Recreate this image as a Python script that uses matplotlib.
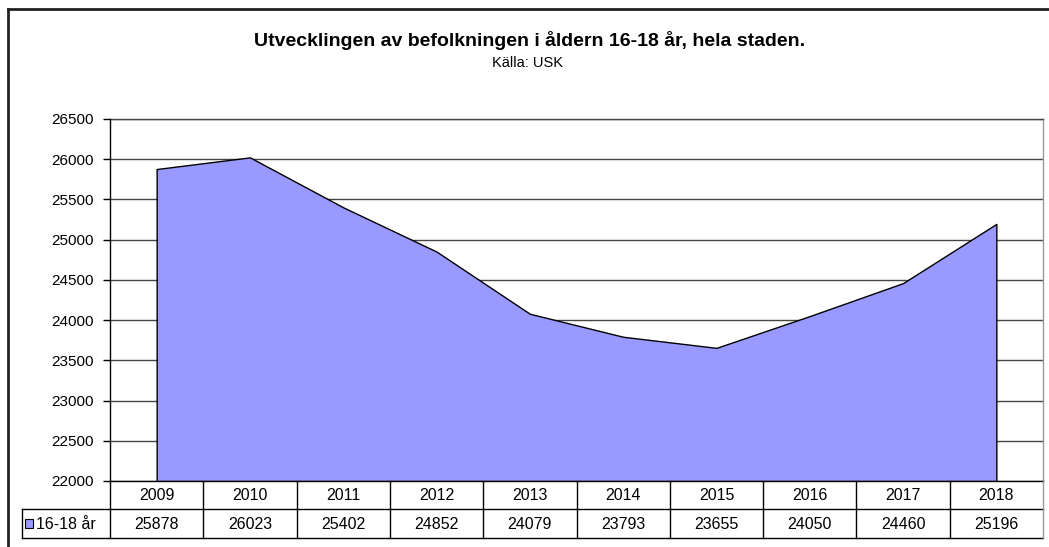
import matplotlib
matplotlib.use("Agg")
import matplotlib.pyplot as plt
from matplotlib.lines import Line2D
from matplotlib.patches import Rectangle

years = ["2009", "2010", "2011", "2012", "2013", "2014", "2015", "2016", "2017", "2018"]
values = [25878, 26023, 25402, 24852, 24079, 23793, 23655, 24050, 24460, 25196]
series_label = "16-18 år"
title = "Utvecklingen av befolkningen i åldern 16-18 år, hela staden."
subtitle = "Källa: USK"
y_ticks = list(range(22000, 26501, 500))

plt.rcParams['font.family'] = ['Liberation Sans', 'DejaVu Sans']

W, H = 1049, 547
fig = plt.figure(figsize=(W / 100, H / 100), dpi=100)

def fx(px):
    return px / W

def fy(py):
    return 1 - py / H

L, R, T, B = 110, 1043, 119, 481
ax = fig.add_axes([fx(L), fy(B), fx(R) - fx(L), fy(T) - fy(B)])
x = list(range(len(years)))
ax.set_xlim(-0.5, len(years) - 0.5)
ax.set_ylim(22000, 26500)
ax.set_yticks(y_ticks)
ax.set_yticklabels([str(v) for v in y_ticks], fontsize=11)
ax.set_xticks([])
ax.tick_params(axis='y', length=5, width=1, color='black', pad=7)
for v in y_ticks:
    ax.axhline(v, color='#444444', lw=1, zorder=1)
ax.fill_between(x, values, 22000, facecolor='#9999FF', edgecolor='black', lw=1, zorder=2)
ax.spines['left'].set_color('black')
ax.spines['bottom'].set_color('black')
ax.spines['top'].set_color('#444444')
ax.spines['right'].set_color('#999999')
for s in ax.spines.values():
    s.set_linewidth(1)
ax.spines['left'].set_zorder(5)
ax.spines['bottom'].set_zorder(5)

# Data table
row1_top, row1_bot, row2_bot = 481, 509, 538
label_left = 22
colw = (R - L) / len(years)
lc = 'black'
def hline(y, x0, x1, color=lc, lw=1):
    fig.add_artist(Line2D([fx(x0), fx(x1)], [fy(y), fy(y)], color=color, lw=lw))
def vline(x0, y0, y1, color=lc, lw=1):
    fig.add_artist(Line2D([fx(x0), fx(x0)], [fy(y0), fy(y1)], color=color, lw=lw))

hline(row1_bot, label_left, R)
hline(row2_bot, label_left, R)
vline(label_left, row1_bot, row2_bot)
for i in range(len(years) + 1):
    xx = L + i * colw
    vline(xx, row1_top, row2_bot, color=('#999999' if i == len(years) else lc))
for i, (yr, v) in enumerate(zip(years, values)):
    cx = L + (i + 0.5) * colw
    fig.text(fx(cx), fy((row1_top + row1_bot) / 2 + 1), yr, ha='center', va='center', fontsize=11.5)
    fig.text(fx(cx), fy((row1_bot + row2_bot) / 2 + 1), str(v), ha='center', va='center', fontsize=11.5)
# legend key
fig.add_artist(Rectangle((fx(25), fy(528)), fx(8), fy(519) - fy(528), facecolor='#9999FF',
                         edgecolor='black', lw=0.8, transform=fig.transFigure))
fig.text(fx(36), fy((row1_bot + row2_bot) / 2 + 1), series_label, ha='left', va='center', fontsize=11.5)

# Titles
fig.text(fx(530), fy(41), title, ha='center', va='center', fontsize=14, fontweight='bold')
fig.text(fx(527), fy(63), subtitle, ha='center', va='center', fontsize=10.5)

# Outer frame (cropped chart border)
fig.add_artist(Line2D([fx(7.5), fx(W)], [fy(9), fy(9)], color='#222222', lw=2))
fig.add_artist(Line2D([fx(7.5), fx(7.5)], [fy(9), fy(H)], color='#222222', lw=2))

fig.savefig("out.png", dpi=100)
